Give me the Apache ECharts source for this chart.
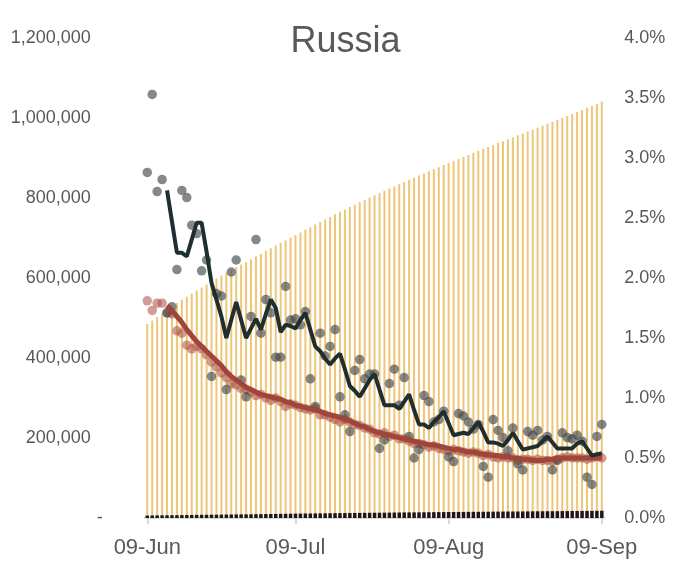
<!DOCTYPE html>
<html>
<head>
<meta charset="utf-8">
<script src="https://cdn.jsdelivr.net/npm/echarts@6/dist/echarts.min.js"></script>
<style>
html,body{margin:0;padding:0;background:#fff;}
#c{width:691px;height:563px;}
</style>
</head>
<body>
<div id="c"></div>
<script>
var dates = [
 '09-Jun','10-Jun','11-Jun','12-Jun','13-Jun','14-Jun','15-Jun','16-Jun','17-Jun','18-Jun','19-Jun','20-Jun','21-Jun','22-Jun','23-Jun','24-Jun','25-Jun','26-Jun','27-Jun','28-Jun','29-Jun','30-Jun',
 '01-Jul','02-Jul','03-Jul','04-Jul','05-Jul','06-Jul','07-Jul','08-Jul','09-Jul','10-Jul','11-Jul','12-Jul','13-Jul','14-Jul','15-Jul','16-Jul','17-Jul','18-Jul','19-Jul','20-Jul','21-Jul','22-Jul','23-Jul','24-Jul','25-Jul','26-Jul','27-Jul','28-Jul','29-Jul','30-Jul','31-Jul',
 '01-Aug','02-Aug','03-Aug','04-Aug','05-Aug','06-Aug','07-Aug','08-Aug','09-Aug','10-Aug','11-Aug','12-Aug','13-Aug','14-Aug','15-Aug','16-Aug','17-Aug','18-Aug','19-Aug','20-Aug','21-Aug','22-Aug','23-Aug','24-Aug','25-Aug','26-Aug','27-Aug','28-Aug','29-Aug','30-Aug','31-Aug',
 '01-Sep','02-Sep','03-Sep','04-Sep','05-Sep','06-Sep','07-Sep','08-Sep','09-Sep'
];
var shownDates = ['09-Jun','09-Jul','09-Aug','09-Sep'];

var cumCases = [485253,493657,502436,511423,520129,528964,537210,545458,553301,561091,568292,576162,583879,591465,598878,606043,613148,619936,626779,633563,640246,646929,
 653479,660231,667883,674515,681251,687862,694230,700792,707301,713936,720547,727162,733699,739947,746369,752797,759203,765437,771546,777486,783328,789190,795038,800849,806720,812485,818120,823515,828990,834499,839981,
 845443,850870,856264,861423,866627,871894,877135,882347,887536,892654,897599,902701,907758,912823,917884,922853,927745,932493,937321,942106,946976,951897,956749,961493,966189,970865,975576,980405,985346,990326,995319,
 1000048,1005000,1009995,1015105,1020310,1025505,1030690,1035789,1041007];

var cumDeaths = [6142,6358,6532,6715,6829,6948,7081,7284,7478,7660,7831,7992,8111,8206,8359,8513,8605,8781,8969,9060,9152,9306,
 9536,9683,9859,10027,10161,10296,10494,10667,10843,11017,11205,11335,11439,11614,11770,11937,12123,12247,12342,12427,12580,12745,12892,13046,13172,13269,13354,13504,13673,13837,13963,
 14058,14128,14207,14327,14469,14606,14725,14854,14931,15001,15131,15260,15384,15498,15585,15653,15707,15836,15951,16099,16189,16268,16310,16383,16524,16649,16760,16866,16958,16995,17045,
 17250,17365,17479,17528,17649,17758,17820,17993,18135];

// daily growth of deaths, % (grey dots)
var deathGrowth = [2.88,3.53,2.72,2.82,1.71,1.76,2.07,2.73,2.67,2.44,
 2.37,2.06,2.15,1.18,1.87,1.85,1.07,2.05,2.15,1.15,
 1.01,1.68,2.32,1.54,1.82,1.71,1.34,1.34,1.93,1.65,
 1.66,1.61,1.72,1.16,0.93,1.54,1.35,1.43,1.57,1.01,
 0.86,0.72,1.23,1.32,1.16,1.20,1.20,0.58,0.65,1.12,
 1.24,0.94,1.17,0.68,0.50,0.57,1.02,0.97,0.80,0.82,
 0.89,0.51,0.47,0.87,0.85,0.80,0.74,0.78,0.43,0.34,
 0.82,0.73,0.67,0.56,0.75,0.45,0.40,0.72,0.69,0.73,
 0.65,0.68,0.40,0.48,0.71,0.67,0.66,0.69,0.64,0.34,
 0.28,0.68,0.78];

// average of death growth, % (dark line)
var deathGrowthAvg = [null,null,null,null,2.73,2.47,2.21,2.21,2.18,2.32,
 2.46,2.46,2.22,1.96,1.82,1.68,1.50,1.65,1.80,1.65,
 1.50,1.58,1.66,1.57,1.70,1.82,1.75,1.55,1.61,1.60,
 1.58,1.65,1.71,1.57,1.43,1.39,1.33,1.28,1.33,1.37,
 1.24,1.10,1.06,1.01,1.08,1.15,1.20,1.07,0.94,0.94,
 0.94,0.91,0.97,1.03,0.90,0.78,0.78,0.75,0.80,0.84,
 0.89,0.79,0.69,0.70,0.71,0.70,0.75,0.80,0.72,0.63,
 0.63,0.62,0.60,0.65,0.71,0.64,0.57,0.58,0.59,0.60,
 0.64,0.68,0.63,0.58,0.58,0.58,0.58,0.62,0.64,0.58,
 0.52,0.53,0.54];

// daily growth of cases, % (red dots)
var caseGrowth = [1.81,1.73,1.79,1.79,1.71,1.70,1.56,1.54,1.44,1.41,
 1.43,1.41,1.36,1.30,1.26,1.21,1.17,1.12,1.11,1.08,
 1.07,1.05,1.02,1.03,1.00,0.98,1.00,0.97,0.93,0.95,
 0.94,0.92,0.91,0.90,0.91,0.86,0.86,0.84,0.82,0.80,
 0.82,0.80,0.78,0.77,0.75,0.74,0.71,0.70,0.71,0.68,
 0.69,0.66,0.66,0.64,0.62,0.62,0.61,0.59,0.60,0.58,
 0.57,0.56,0.57,0.56,0.55,0.54,0.55,0.54,0.52,0.53,
 0.51,0.50,0.51,0.50,0.50,0.48,0.49,0.49,0.48,0.49,
 0.48,0.48,0.47,0.49,0.50,0.51,0.50,0.50,0.50,0.49,
 0.50,0.51,0.50];

// average of case growth, % (red line)
var caseGrowthAvg = [null,null,null,null,1.77,1.73,1.68,1.63,1.57,1.52,
 1.47,1.43,1.39,1.35,1.31,1.27,1.22,1.18,1.15,1.12,
 1.09,1.07,1.05,1.03,1.02,1.01,1.00,0.99,0.97,0.96,
 0.94,0.93,0.92,0.91,0.90,0.89,0.87,0.86,0.85,0.84,
 0.82,0.81,0.79,0.77,0.76,0.74,0.72,0.71,0.70,0.69,
 0.68,0.67,0.66,0.65,0.64,0.63,0.62,0.61,0.61,0.60,
 0.59,0.58,0.57,0.57,0.56,0.55,0.55,0.54,0.53,0.53,
 0.52,0.52,0.51,0.51,0.50,0.50,0.49,0.49,0.48,0.48,
 0.48,0.49,0.49,0.50,0.50,0.50,0.50,0.50,0.50,0.50,
 0.50,0.50,0.50];

var FONT = 'Liberation Sans';
var GREY_TXT = '#595959';

var chart = echarts.init(document.getElementById('c'), null, {renderer: 'canvas'});
function showIdx(i) { return shownDates.indexOf(dates[i]) >= 0; }

chart.setOption({
  animation: false,
  backgroundColor: '#ffffff',
  title: {
    text: 'Russia', left: 'center', top: 19,
    textStyle: {fontFamily: FONT, fontSize: 36, fontWeight: 'normal', color: GREY_TXT}
  },
  grid: {left: 144.8, right: 86.7, top: 38, bottom: 45, containLabel: false},
  xAxis: [{
    type: 'category', data: dates, boundaryGap: true,
    axisLine: {show: true, lineStyle: {color: '#D9D9D9', width: 2}},
    axisTick: {show: true, alignWithLabel: true, length: 6, interval: function (i) { return showIdx(i); }, lineStyle: {color: '#D9D9D9', width: 2}},
    axisLabel: {interval: function (i) { return showIdx(i); }, margin: 19, fontFamily: FONT, fontSize: 22, color: GREY_TXT},
    splitLine: {show: false}
  }, {
    type: 'category', data: dates, boundaryGap: true, show: false,
    axisLine: {show: false}, axisTick: {show: false}, axisLabel: {show: false}
  }],
  yAxis: [{
    type: 'value', min: 0, max: 1200000, interval: 200000, position: 'left',
    axisLine: {show: false}, axisTick: {show: false}, splitLine: {show: false},
    axisLabel: {
      margin: 42, fontFamily: FONT, fontSize: 18, color: GREY_TXT,
      formatter: function (v) {
        if (v === 0) return '-';
        return '{n|' + v.toLocaleString('en-US') + '}';
      },
      rich: {n: {fontFamily: FONT, fontSize: 18, color: GREY_TXT, padding: [0, 12, 0, 0]}}
    }
  }, {
    type: 'value', min: 0, max: 4, interval: 0.5, position: 'right',
    axisLine: {show: false}, axisTick: {show: false}, splitLine: {show: false},
    axisLabel: {
      margin: 20, fontFamily: FONT, fontSize: 18, color: GREY_TXT,
      formatter: function (v) { return v.toFixed(1) + '%'; }
    }
  }],
  series: [{
    name: 'Cumulative cases', type: 'bar', xAxisIndex: 0, yAxisIndex: 0,
    data: cumCases, barWidth: 2, itemStyle: {color: '#EEC67A'}, z: 1
  }, {
    name: 'Cumulative deaths', type: 'bar', xAxisIndex: 1, yAxisIndex: 0,
    data: cumDeaths, barWidth: 3.5, itemStyle: {color: '#1E1715'}, z: 2
  }, {
    name: 'Case growth', type: 'scatter', yAxisIndex: 1,
    data: caseGrowth, symbolSize: 9.5, itemStyle: {color: 'rgba(175,85,72,0.72)'}, z: 3
  }, {
    name: 'Death growth', type: 'scatter', yAxisIndex: 1,
    data: deathGrowth, symbolSize: 9.5, itemStyle: {color: 'rgba(60,66,70,0.78)'}, z: 4
  }, {
    name: 'Case growth avg', type: 'line', yAxisIndex: 1,
    data: caseGrowthAvg, showSymbol: false, symbol: 'none', connectNulls: false,
    lineStyle: {color: '#A0453A', width: 5}, z: 5
  }, {
    name: 'Death growth avg', type: 'line', yAxisIndex: 1,
    data: deathGrowthAvg, showSymbol: false, symbol: 'none', connectNulls: false,
    lineStyle: {color: '#1F2E31', width: 4}, z: 6
  }]
});
</script>
</body>
</html>
